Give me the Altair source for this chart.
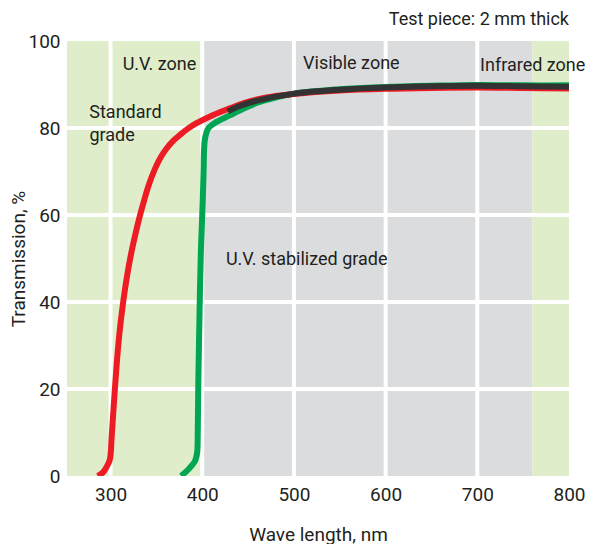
import altair as alt
import pandas as pd

FONT = "Roboto, Liberation Sans, sans-serif"
FS = 19
FS_NOTE = 18
TEXT_COLOR = "#231F20"

# Zones (wavelength ranges)
zone_start = [252.5, 400, 760]
zone_end = [400, 760, 800]
zone_color = ["#DFEDCB", "#DBDCDE", "#DFEDCB"]

# grid positions
grid_x = [300, 400, 500, 600, 700]
grid_y = [20, 40, 60, 80]

# axis ticks
x_ticks = [300, 400, 500, 600, 700, 800]
y_ticks = [0, 20, 40, 60, 80, 100]

# Standard grade (red)
std_x = [286, 292, 296, 299, 300.3, 301, 302.8, 304.6, 306.8, 309.8, 313.6, 318, 322.9,
         327.8, 332, 336.4, 341.5, 348.4, 355, 361.1, 368, 375.6, 384, 393.8, 412, 430,
         448, 470, 500, 550, 600, 650, 700, 750, 800]
std_y = [0, 0.9, 2.2, 3.6, 5.5, 8.2, 14, 19.6, 26, 33, 39.7, 46, 51.6,
         56.2, 59.8, 63.2, 66.8, 70.6, 73.4, 75.3, 77, 78.4, 79.8, 81.1, 83, 84.5,
         85.9, 87, 87.8, 88.6, 89.0, 89.2, 89.3, 89.2, 89.1]

# U.V. stabilized grade (green)
uv_x = [377, 386, 392, 394.5, 395, 395.6, 396.5, 398.5, 400.5, 401.5, 402, 403,
        406.5, 415.6, 430, 444.7, 460, 480, 500, 550, 600, 650, 700, 750, 800]
uv_y = [0, 1.8, 3.4, 5.5, 8.2, 19.6, 31, 51.6, 63, 70, 75, 77.5,
        79.9, 81.4, 82.9, 84.4, 85.8, 87, 87.9, 88.9, 89.4, 89.7, 89.9, 89.8, 89.8]

# Common curve (dark)
common_x = [428, 440, 460, 500, 550, 600, 650, 700, 750, 800]
common_y = [83.8, 85.0, 86.3, 87.9, 88.8, 89.3, 89.6, 89.7, 89.6, 89.5]

# annotations
label_text = ["U.V. zone", "Standard", "grade", "Visible zone", "Infrared zone", "U.V. stabilized grade"]
label_x = [313.2, 276.8, 277, 510, 703, 425.8]
label_y = [93.3, 82.2, 76.9, 93.6, 93.2, 48.5]

note_text = ["Test piece: 2 mm thick"]
note_x = [800]
note_y = [103.7]

xscale = alt.Scale(domain=[252.5, 800], nice=False, zero=False)
yscale = alt.Scale(domain=[0, 100], nice=False)

zones = pd.DataFrame({"start": zone_start, "end": zone_end, "color": zone_color,
                      "lo": [0] * 3, "hi": [100] * 3})

base_x = alt.X("start:Q", scale=xscale, title="Wave length, nm",
               axis=alt.Axis(values=x_ticks, titleX=251, titleY=58,
                             titleAlign="center", titleBaseline="middle"))
base_y = alt.Y("lo:Q", scale=yscale, title="Transmission, %",
               axis=alt.Axis(values=y_ticks, titleX=-48.5, titleY=217.5, titleAngle=270,
                             titleAlign="center", titleBaseline="middle"))

zone_layer = alt.Chart(zones).mark_rect().encode(
    x=base_x, x2="end:Q", y=base_y, y2="hi:Q",
    color=alt.Color("color:N", scale=None),
)

gx = alt.Chart(pd.DataFrame({"g": grid_x})).mark_rule(color="white", strokeWidth=4).encode(
    x=alt.X("g:Q", scale=xscale))
gy = alt.Chart(pd.DataFrame({"g": grid_y})).mark_rule(color="white", strokeWidth=4).encode(
    y=alt.Y("g:Q", scale=yscale))


def curve(xs, ys, color):
    df = pd.DataFrame({"x": xs, "y": ys, "i": list(range(len(xs)))})
    return alt.Chart(df).mark_line(color=color, strokeWidth=6, interpolate="catmull-rom",
                                   clip=True).encode(
        x=alt.X("x:Q", scale=xscale), y=alt.Y("y:Q", scale=yscale), order="i:Q")


green = curve(uv_x, uv_y, "#00A651")
red = curve(std_x, std_y, "#ED1C24")
dark = curve(common_x, common_y, "#333333")

labels = alt.Chart(pd.DataFrame({"t": label_text, "x": label_x, "y": label_y})).mark_text(
    align="left", baseline="alphabetic", font=FONT, fontSize=FS_NOTE, color=TEXT_COLOR).encode(
    x=alt.X("x:Q", scale=xscale), y=alt.Y("y:Q", scale=yscale), text="t:N")

note = alt.Chart(pd.DataFrame({"t": note_text, "x": note_x, "y": note_y})).mark_text(
    align="right", baseline="alphabetic", font=FONT, fontSize=FS_NOTE, color=TEXT_COLOR).encode(
    x=alt.X("x:Q", scale=xscale), y=alt.Y("y:Q", scale=yscale), text="t:N")

chart = alt.layer(zone_layer, gx, gy, green, red, dark, labels, note).properties(
    width=502, height=435,
    autosize=alt.AutoSizeParams(type="none"),
    padding={"left": 59, "top": 33, "right": 19, "bottom": 68},
).configure_view(stroke=None).configure_axis(
    domain=False, ticks=False, grid=False, labelFlush=False, labelOverlap=False,
    labelFont=FONT, labelFontSize=FS, labelColor=TEXT_COLOR,
    titleFont=FONT, titleFontSize=FS, titleColor=TEXT_COLOR, titleFontWeight="normal",
).configure_axisX(labelPadding=9).configure_axisY(labelPadding=7)

chart.save("out.html", embed_options={"renderer": "svg", "actions": False})
